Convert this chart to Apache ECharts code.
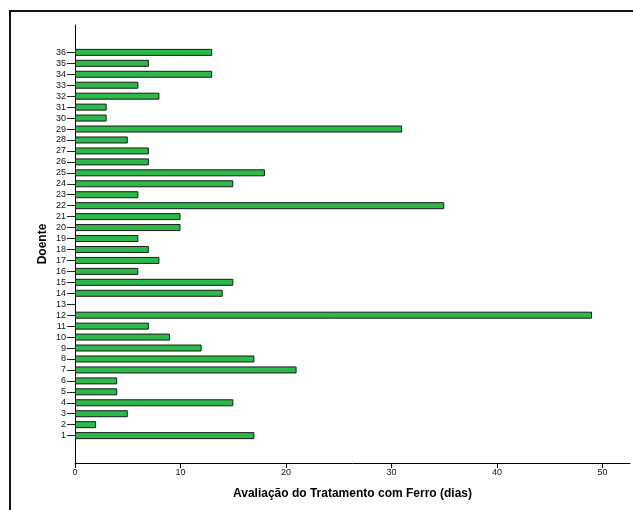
<!DOCTYPE html>
<html>
<head>
<meta charset="utf-8">
<script src="https://cdn.jsdelivr.net/npm/echarts@6/dist/echarts.min.js"></script>
<style>
  html, body { margin: 0; padding: 0; background: #fff; }
  #chart { width: 633px; height: 510px; }
</style>
</head>
<body>
<div id="chart"></div>
<script>
// Patients (Doente) 1..36 and days of iron treatment evaluation
const doentes = ['1','2','3','4','5','6','7','8','9','10','11','12','13','14','15','16','17','18',
                 '19','20','21','22','23','24','25','26','27','28','29','30','31','32','33','34','35','36'];
const dias = [17, 2, 5, 15, 4, 4, 21, 17, 12, 9, 7, 49, null, 14, 15, 6, 8, 7,
              6, 10, 10, 35, 6, 15, 18, 7, 7, 5, 31, 3, 3, 8, 6, 13, 7, 13];
const xTicks = [0, 10, 20, 30, 40, 50];

// two empty slots at each end of the category axis leave room above and below the bars
const PAD = 2;
const cats = [];
const vals = [];
for (let i = 0; i < PAD; i++) { cats.push('pad_lo' + i); vals.push(null); }
doentes.forEach((d, i) => { cats.push(d); vals.push(dias[i]); });
for (let i = 0; i < PAD; i++) { cats.push('pad_hi' + i); vals.push(null); }
const isPad = (v) => String(v).indexOf('pad_') === 0;

const chart = echarts.init(document.getElementById('chart'), null, { renderer: 'canvas' });
chart.setOption({
  animation: false,
  backgroundColor: '#ffffff',
  grid: { left: 75, right: 3, top: 25, bottom: 47, containLabel: false },
  graphic: [{
    type: 'rect',
    shape: { x: 10, y: 11, width: 800, height: 700 },
    style: { fill: 'none', stroke: '#111', lineWidth: 2 },
    silent: true
  }],
  xAxis: {
    type: 'value',
    min: 0,
    max: 52.6,
    interval: 10,
    name: 'Avaliação do Tratamento com Ferro (dias)',
    nameLocation: 'middle',
    nameGap: 25,
    nameMoveOverlap: false,
    nameTextStyle: { fontFamily: 'Liberation Sans, Arial', fontWeight: 'bold', fontSize: 12, color: '#000' },
    axisLine: { show: true, lineStyle: { color: '#000', width: 1 } },
    axisTick: { show: true, length: 5, customValues: xTicks, lineStyle: { color: '#000' } },
    axisLabel: { customValues: xTicks, fontFamily: 'Liberation Sans, Arial', fontSize: 9, color: '#111', margin: 5 },
    splitLine: { show: false }
  },
  yAxis: {
    type: 'category',
    data: cats,
    boundaryGap: true,
    name: 'Doente',
    nameLocation: 'middle',
    nameGap: 26,
    nameMoveOverlap: false,
    nameRotate: 90,
    nameTextStyle: { fontFamily: 'Liberation Sans, Arial', fontWeight: 'bold', fontSize: 12, color: '#000' },
    axisLine: { show: true, lineStyle: { color: '#000', width: 1 } },
    axisTick: {
      show: true, alignWithLabel: true, length: 8,
      interval: (idx, val) => !isPad(val),
      lineStyle: { color: '#222' }
    },
    axisLabel: {
      interval: 0,
      fontFamily: 'Liberation Sans, Arial', fontSize: 9, color: '#111', margin: 9,
      formatter: (v) => isPad(v) ? '' : v
    },
    splitLine: { show: false }
  },
  series: [{
    type: 'bar',
    data: vals,
    barWidth: 7,
    itemStyle: { color: '#2db84a', borderColor: '#1a1a1a', borderWidth: 1 }
  }]
});
</script>
</body>
</html>
